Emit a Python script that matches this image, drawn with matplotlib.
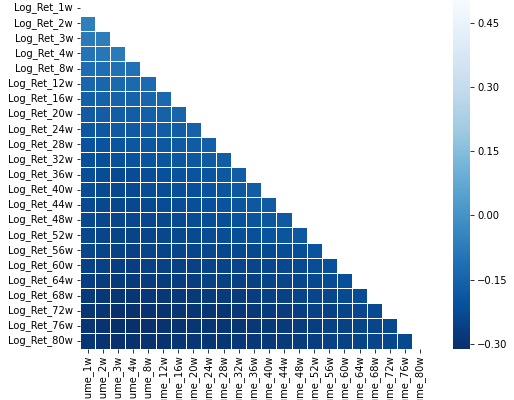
import numpy as np
import matplotlib
matplotlib.use("Agg")
import matplotlib.pyplot as plt
import seaborn as sns

horizons = ["1w", "2w", "3w", "4w", "8w", "12w", "16w", "20w", "24w", "28w", "32w",
            "36w", "40w", "44w", "48w", "52w", "56w", "60w", "64w", "68w", "72w", "76w", "80w"]
row_labels = ["Log_Ret_" + h for h in horizons]
col_labels = ["Log_Volume_" + h for h in horizons]

# Lower-triangle correlation estimates, one list per row (row 1w is fully masked)
ret_2w = [-0.065]
ret_3w = [-0.08, -0.07]
ret_4w = [-0.10, -0.09, -0.08]
ret_8w = [-0.12, -0.115, -0.11, -0.105]
ret_12w = [-0.14, -0.14, -0.135, -0.13, -0.125]
ret_16w = [-0.16, -0.155, -0.15, -0.15, -0.145, -0.135]
ret_20w = [-0.175, -0.17, -0.165, -0.165, -0.16, -0.155, -0.145]
ret_24w = [-0.19, -0.185, -0.18, -0.18, -0.175, -0.17, -0.165, -0.155]
ret_28w = [-0.205, -0.2, -0.195, -0.19, -0.19, -0.185, -0.18, -0.175, -0.16]
ret_32w = [-0.215, -0.215, -0.21, -0.205, -0.2, -0.195, -0.19, -0.185, -0.18, -0.165]
ret_36w = [-0.22, -0.225, -0.23, -0.225, -0.22, -0.21, -0.205, -0.2, -0.195, -0.185, -0.17]
ret_40w = [-0.225, -0.23, -0.235, -0.23, -0.225, -0.22, -0.215, -0.21, -0.205, -0.195, -0.185, -0.17]
ret_44w = [-0.23, -0.235, -0.24, -0.235, -0.23, -0.225, -0.22, -0.215, -0.21, -0.2, -0.195, -0.185, -0.175]
ret_48w = [-0.235, -0.24, -0.245, -0.24, -0.24, -0.235, -0.23, -0.225, -0.22, -0.215, -0.205, -0.2, -0.19, -0.18]
ret_52w = [-0.24, -0.245, -0.25, -0.25, -0.245, -0.24, -0.235, -0.23, -0.225, -0.22, -0.215, -0.21, -0.2, -0.195, -0.185]
ret_56w = [-0.245, -0.25, -0.255, -0.255, -0.25, -0.25, -0.245, -0.245, -0.24, -0.24, -0.235, -0.235, -0.23, -0.225, -0.215, -0.2]
ret_60w = [-0.255, -0.26, -0.265, -0.265, -0.26, -0.26, -0.255, -0.255, -0.25, -0.25, -0.245, -0.245, -0.24, -0.235, -0.23, -0.22, -0.21]
ret_64w = [-0.265, -0.27, -0.275, -0.275, -0.27, -0.27, -0.265, -0.265, -0.26, -0.26, -0.255, -0.255, -0.25, -0.245, -0.24, -0.235, -0.225, -0.215]
ret_68w = [-0.28, -0.285, -0.29, -0.29, -0.285, -0.285, -0.28, -0.28, -0.275, -0.275, -0.27, -0.265, -0.26, -0.255, -0.25, -0.245, -0.24, -0.23, -0.225]
ret_72w = [-0.29, -0.295, -0.305, -0.305, -0.3, -0.3, -0.295, -0.295, -0.29, -0.29, -0.285, -0.28, -0.275, -0.27, -0.265, -0.26, -0.255, -0.25, -0.24, -0.23]
ret_76w = [-0.295, -0.3, -0.308, -0.308, -0.305, -0.3, -0.3, -0.295, -0.295, -0.29, -0.29, -0.285, -0.28, -0.275, -0.27, -0.265, -0.26, -0.255, -0.25, -0.245, -0.235]
ret_80w = [-0.295, -0.3, -0.305, -0.305, -0.3, -0.3, -0.295, -0.295, -0.29, -0.29, -0.285, -0.285, -0.28, -0.275, -0.27, -0.265, -0.26, -0.255, -0.25, -0.245, -0.24, -0.235]

rows = [[], ret_2w, ret_3w, ret_4w, ret_8w, ret_12w, ret_16w, ret_20w, ret_24w, ret_28w,
        ret_32w, ret_36w, ret_40w, ret_44w, ret_48w, ret_52w, ret_56w, ret_60w, ret_64w,
        ret_68w, ret_72w, ret_76w, ret_80w]

n = len(horizons)
corr = np.zeros((n, n))
for i, r in enumerate(rows):
    corr[i, :len(r)] = r
    for j in range(len(r), n):
        corr[j, i] = corr[i, j] if j < i else 0.0
mask = np.triu(np.ones((n, n), dtype=bool))

fig = plt.figure(figsize=(514 / 72, 400 / 72), dpi=72)
ax = fig.add_axes([80 / 514, (400 - 348.6) / 400, 347.5 / 514, 348.2 / 400])
cax = fig.add_axes([453 / 514, (400 - 348.6) / 400, 17 / 514, 348.2 / 400])

sns.heatmap(corr, mask=mask, cmap="Blues_r", vmin=-0.311, vmax=0.502,
            linewidths=1, linecolor="white", ax=ax, cbar_ax=cax,
            xticklabels=col_labels, yticklabels=row_labels)
ax.set_yticklabels(row_labels, rotation=0, fontsize=10)
ax.set_xticklabels(col_labels, rotation=90, fontsize=10)
cax.set_yticks([-0.30, -0.15, 0.00, 0.15, 0.30, 0.45])
cax.set_yticklabels(["\u22120.30", "\u22120.15", "0.00", "0.15", "0.30", "0.45"], fontsize=10)

fig.savefig("out.png", dpi=72)
